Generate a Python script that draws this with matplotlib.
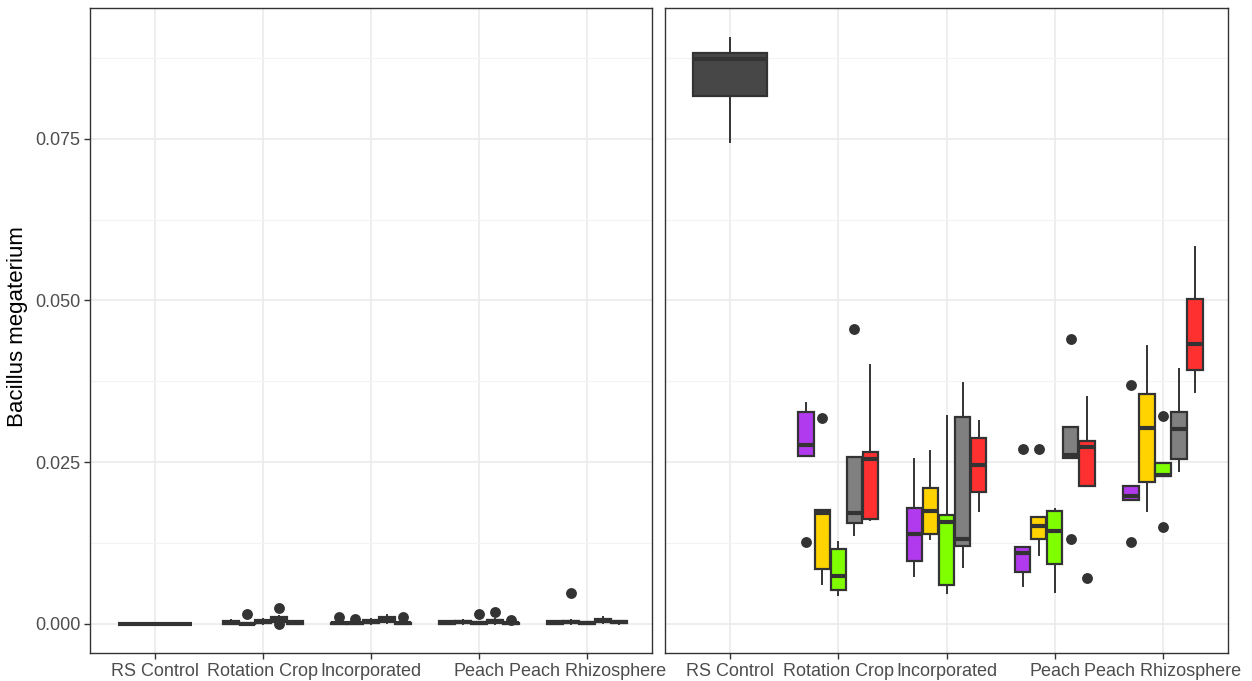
import matplotlib
matplotlib.use("Agg")
import matplotlib.pyplot as plt
from matplotlib.ticker import FixedLocator

plt.rcParams['font.family'] = ['Liberation Sans', 'DejaVu Sans']

categories = ["RS Control", "Rotation Crop", "Incorporated", "Peach", "Peach Rhizosphere"]
group_colors = ["#B23AEE", "#FFD300", "#7FFF00", "#808080", "#FF3030"]
control_color = "#474747"
y_label = "Bacillus megaterium"
y_ticks = [0.0, 0.025, 0.05, 0.075]
y_tick_labels = ["0.000", "0.025", "0.050", "0.075"]

# ---- left panel (values near zero) ----
left_q1 = [[0.0],
           [0.0, 0.0, 0.0001, 0.0003, 0.0],
           [0.0, 0.0, 0.0001, 0.0003, 0.0],
           [0.0, 0.0001, 0.0, 0.0002, 0.0],
           [0.0, 0.0001, 0.0, 0.0003, 0.0001]]
left_med = [[0.0],
            [0.0002, 0.0, 0.0003, 0.0007, 0.0001],
            [0.0001, 0.0001, 0.0003, 0.0006, 0.0001],
            [0.0001, 0.0003, 0.0002, 0.0004, 0.0001],
            [0.0002, 0.0003, 0.0001, 0.0005, 0.0003]]
left_q3 = [[0.0],
           [0.0005, 0.0001, 0.0006, 0.0011, 0.0004],
           [0.0002, 0.0002, 0.0006, 0.0010, 0.0002],
           [0.0004, 0.0005, 0.0003, 0.0006, 0.0002],
           [0.0004, 0.0005, 0.0003, 0.0007, 0.0005]]
left_lo = [[0.0],
           [0.0, 0.0, 0.0, 0.0002, 0.0],
           [0.0, 0.0, 0.0, 0.0001, 0.0],
           [0.0, 0.0, 0.0, 0.0, 0.0],
           [0.0, 0.0, 0.0, 0.0002, 0.0]]
left_hi = [[0.0],
           [0.0006, 0.0001, 0.0008, 0.0013, 0.0005],
           [0.0003, 0.0002, 0.0007, 0.0014, 0.0002],
           [0.0005, 0.0006, 0.0003, 0.0008, 0.0002],
           [0.0004, 0.0006, 0.0003, 0.0010, 0.0005]]
left_out = [[[]],
            [[], [0.0015], [], [0.0024, 0.0], []],
            [[0.0010], [0.0008], [], [], [0.0011]],
            [[], [], [0.0015], [0.0018], [0.0006]],
            [[], [0.0048], [], [], []]]

# ---- right panel ----
right_q1 = [[0.0816],
            [0.0260, 0.0085, 0.0052, 0.0156, 0.0162],
            [0.0097, 0.0139, 0.0060, 0.0120, 0.0204],
            [0.0081, 0.0131, 0.0093, 0.0256, 0.0213],
            [0.0191, 0.0219, 0.0228, 0.0255, 0.0393]]
right_med = [[0.0873],
             [0.0277, 0.0172, 0.0074, 0.0171, 0.0255],
             [0.0139, 0.0175, 0.0157, 0.0131, 0.0245],
             [0.0109, 0.0152, 0.0143, 0.0261, 0.0274],
             [0.0197, 0.0303, 0.0230, 0.0301, 0.0433]]
right_q3 = [[0.0883],
            [0.0327, 0.0176, 0.0116, 0.0258, 0.0266],
            [0.0179, 0.0210, 0.0168, 0.0320, 0.0287],
            [0.0119, 0.0165, 0.0174, 0.0305, 0.0283],
            [0.0213, 0.0355, 0.0248, 0.0328, 0.0503]]
right_lo = [[0.0745],
            [0.0260, 0.0062, 0.0045, 0.0138, 0.0160],
            [0.0074, 0.0131, 0.0048, 0.0088, 0.0174],
            [0.0058, 0.0107, 0.0050, 0.0256, 0.0213],
            [0.0191, 0.0174, 0.0228, 0.0236, 0.0358]]
right_hi = [[0.0906],
            [0.0342, 0.0176, 0.0127, 0.0258, 0.0400],
            [0.0255, 0.0268, 0.0321, 0.0373, 0.0313],
            [0.0119, 0.0165, 0.0177, 0.0305, 0.0351],
            [0.0213, 0.0429, 0.0248, 0.0394, 0.0582]]
right_out = [[[]],
             [[0.0126], [0.0318], [], [0.0456], []],
             [[], [], [], [], []],
             [[0.0270], [0.0270], [], [0.0440, 0.0132], [0.0071]],
             [[0.0370, 0.0126], [], [0.0322, 0.0150], [], []]]

group_offsets = [-0.296, -0.148, 0.0, 0.148, 0.296]
group_width = 0.142
control_width = 0.69

fig = plt.figure(figsize=(12.52, 6.81), dpi=100)
W, H = 1252, 681
ax_l = fig.add_axes([90 / W, 1 - 653 / H, (652 - 90) / W, (653 - 8) / H])
ax_r = fig.add_axes([665 / W, 1 - 653 / H, (1228 - 665) / W, (653 - 8) / H])

edge = "#333333"


def draw_panel(ax, q1, med, q3, lo, hi, out):
    for ci in range(len(categories)):
        n = len(q1[ci])
        stats = []
        for gi in range(n):
            stats.append(dict(med=med[ci][gi], q1=q1[ci][gi], q3=q3[ci][gi],
                              whislo=lo[ci][gi], whishi=hi[ci][gi],
                              fliers=out[ci][gi]))
        if n == 1:
            positions = [ci]
            widths = [control_width]
            colors = [control_color]
        else:
            positions = [ci + o for o in group_offsets[:n]]
            widths = [group_width] * n
            colors = group_colors[:n]
        res = ax.bxp(stats, positions=positions, widths=widths,
                     patch_artist=True, showcaps=False, manage_ticks=False,
                     boxprops=dict(edgecolor=edge, linewidth=1.6),
                     medianprops=dict(color=edge, linewidth=3.0, solid_capstyle='butt'),
                     whiskerprops=dict(color=edge, linewidth=1.4),
                     flierprops=dict(marker='o', markerfacecolor=edge,
                                     markeredgecolor=edge, markersize=6.8))
        for patch, c in zip(res['boxes'], colors):
            patch.set_facecolor(c)
            patch.set_zorder(3)
        for k in ('medians', 'whiskers', 'fliers'):
            for a in res[k]:
                a.set_zorder(4 if k != 'whiskers' else 2.5)

    ax.set_xlim(-0.6, len(categories) - 0.4)
    ax.set_ylim(-0.00449, 0.0952)
    ax.set_xticks(range(len(categories)))
    ax.set_xticklabels(categories)
    ax.yaxis.set_major_locator(FixedLocator(y_ticks))
    ax.yaxis.set_minor_locator(FixedLocator([0.0125, 0.0375, 0.0625, 0.0875]))
    ax.set_axisbelow(True)
    ax.grid(which='major', color='#EBEBEB', linewidth=1.2)
    ax.grid(which='minor', axis='y', color='#F3F3F3', linewidth=0.8)
    for s in ax.spines.values():
        s.set_color(edge)
        s.set_linewidth(1.0)
    ax.tick_params(axis='x', length=4, width=1.0, color=edge, labelsize=13,
                   labelcolor='#4D4D4D', pad=3)
    ax.tick_params(axis='y', which='minor', length=0)
    ax.set_facecolor('white')


draw_panel(ax_l, left_q1, left_med, left_q3, left_lo, left_hi, left_out)
draw_panel(ax_r, right_q1, right_med, right_q3, right_lo, right_hi, right_out)

ax_l.set_yticklabels(y_tick_labels)
ax_l.tick_params(axis='y', which='major', length=4, width=1.0, color=edge,
                 labelsize=13, labelcolor='#4D4D4D', pad=3)
ax_r.tick_params(axis='y', which='both', length=0, labelleft=False)

fig.text(18 / W, 1 - 327 / H, y_label, rotation=90, ha='center', va='center',
         fontsize=16, color='black')

fig.savefig("out.png", dpi=100, facecolor='white')
